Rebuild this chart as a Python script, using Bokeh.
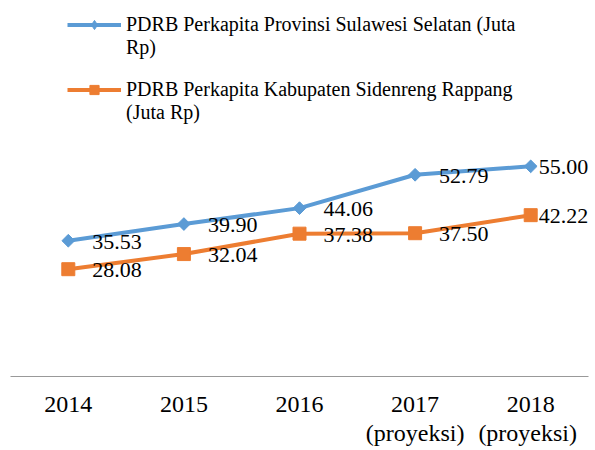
from bokeh.plotting import figure
from bokeh.models import (ColumnDataSource, Range1d, Legend, LegendItem, CategoricalAxis,
                          FactorRange)
from bokeh.core.properties import value
from bokeh.embed import file_html
from bokeh.resources import INLINE

years = ["2014", "2015", "2016", "2017", "2018"]
tick_sublabels = ["", "", "", "(proyeksi)", "(proyeksi)"]
sulsel = [35.53, 39.90, 44.06, 52.79, 55.00]
sidrap = [28.08, 32.04, 37.38, 37.50, 42.22]
name_sulsel = ["PDRB Perkapita Provinsi Sulawesi Selatan (Juta", "Rp)"]
name_sidrap = ["PDRB Perkapita Kabupaten Sidenreng Rappang", "(Juta Rp)"]

BLUE = "#5B9BD5"
ORANGE = "#ED7D31"
FONT = "Liberation Serif"

label_dx = [24, 24, 24, 24, 8]

src1 = ColumnDataSource(dict(x=years, y=sulsel, t=["%.2f" % v for v in sulsel], dx=label_dx))
src2 = ColumnDataSource(dict(x=years, y=sidrap, t=["%.2f" % v for v in sidrap], dx=label_dx))

p = figure(width=595, height=450, x_range=years, y_range=Range1d(0, 98.4),
           output_backend="svg", toolbar_location=None,
           min_border_left=10, min_border_right=7, min_border_top=0, min_border_bottom=74)
p.outline_line_color = None
p.xgrid.visible = False
p.ygrid.visible = False
p.yaxis.visible = False
p.background_fill_color = "white"
p.border_fill_color = "white"

ax = p.xaxis[0]
ax.axis_line_color = "#999999"
ax.axis_line_width = 1
ax.major_tick_line_color = None
ax.minor_tick_line_color = None
ax.major_label_text_font = FONT
ax.major_label_text_font_size = "24px"
ax.major_label_text_line_height = 1.0
ax.major_label_text_color = "black"
ax.major_label_standoff = 14

# second row of category labels (factors made unique with trailing blanks)
sub_factors = []
for s in tick_sublabels:
    f = s or " "
    while f in sub_factors:
        f += " "
    sub_factors.append(f)
p.extra_x_ranges = {"sub": FactorRange(factors=sub_factors)}
ax2 = CategoricalAxis(x_range_name="sub",
                      axis_line_color=None, major_tick_line_color=None,
                      minor_tick_line_color=None, major_label_standoff=-1,
                      major_label_text_font=FONT, major_label_text_font_size="24px",
                      major_label_text_line_height=1.0, major_label_text_color="black")
p.add_layout(ax2, "below")

l1 = p.line("x", "y", source=src1, line_color=BLUE, line_width=4)
d1 = p.scatter("x", "y", source=src1, marker="diamond", size=11,
               fill_color=BLUE, line_color=BLUE)
m1 = p.scatter("x", "y", source=src1, marker="square", angle=0.785398, size=9,
               fill_color=BLUE, line_color=BLUE)
l2 = p.line("x", "y", source=src2, line_color=ORANGE, line_width=4)
m2 = p.scatter("x", "y", source=src2, marker="square", size=13,
               fill_color=ORANGE, line_color=ORANGE)

for src in (src1, src2):
    p.text("x", "y", text="t", source=src, x_offset="dx", y_offset=1,
           text_align="left", text_baseline="middle",
           text_font=value(FONT), text_font_size="22px", text_color="black")


def make_legend(lines, renderers, loc):
    lg = Legend(items=[LegendItem(label=lines[0], renderers=renderers),
                       LegendItem(label=lines[1], renderers=[])],
                location=loc)
    lg.margin = 0
    lg.padding = 0
    lg.border_line_color = None
    lg.background_fill_alpha = 0
    lg.glyph_width = 54
    lg.glyph_height = 23
    lg.label_height = 22
    lg.label_standoff = 5
    lg.spacing = 0
    lg.label_text_font = FONT
    lg.label_text_font_size = "20px"
    lg.label_text_color = "black"
    return lg


p.add_layout(make_legend(name_sulsel, [l1, d1], (57, 317)))
p.add_layout(make_legend(name_sidrap, [l2, m2], (57, 252)))

open("out.html", "w").write(file_html(p, INLINE))
